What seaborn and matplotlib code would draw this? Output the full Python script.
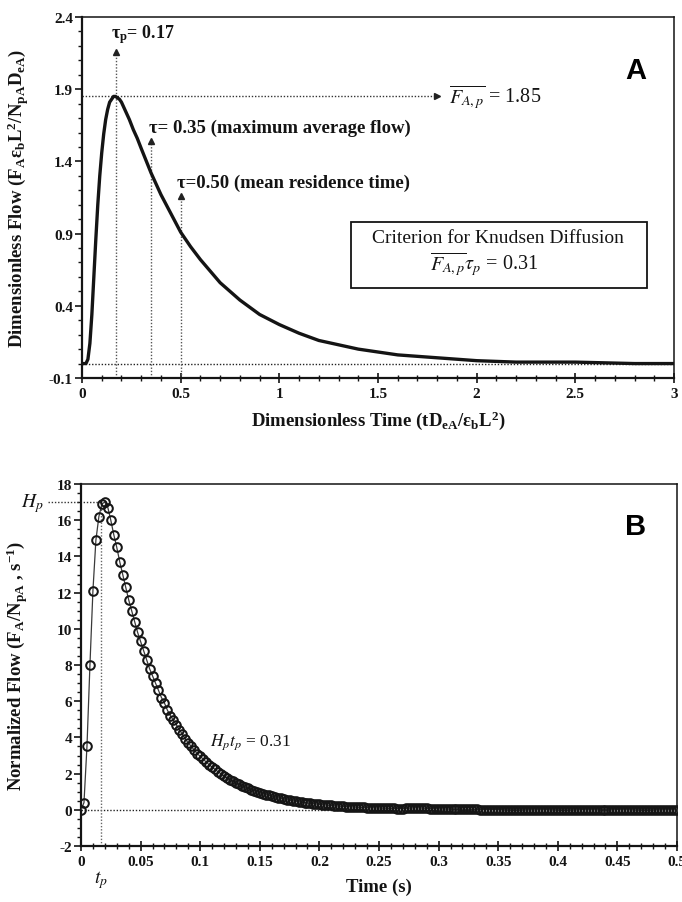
import numpy as np
import matplotlib
matplotlib.use("Agg")
import matplotlib.pyplot as plt
from matplotlib.ticker import MultipleLocator
from matplotlib.patches import Rectangle
import seaborn as sns

# ---------------- data ----------------
# Panel A: dimensionless flow vs dimensionless time
tau_a = [0, 0.02, 0.03, 0.04, 0.05, 0.06, 0.07, 0.08, 0.09, 0.10,
         0.11, 0.12, 0.13, 0.14, 0.15, 0.16, 0.17, 0.18, 0.19, 0.20,
         0.22, 0.24, 0.26, 0.28, 0.30, 0.35, 0.40, 0.45, 0.50, 0.55,
         0.60, 0.70, 0.80, 0.90, 1.00, 1.10, 1.20, 1.30, 1.40, 1.50,
         1.60, 1.80, 2.00, 2.20, 2.50, 2.80, 3.00]
flow_a = [0, 0.00, 0.03, 0.14, 0.34, 0.60, 0.86, 1.10, 1.30, 1.46,
          1.59, 1.69, 1.76, 1.81, 1.83, 1.85, 1.85, 1.84, 1.83, 1.81,
          1.75, 1.69, 1.62, 1.56, 1.49, 1.32, 1.17, 1.04, 0.91, 0.81,
          0.72, 0.56, 0.44, 0.34, 0.27, 0.21, 0.16, 0.13, 0.10, 0.08,
          0.06, 0.04, 0.02, 0.01, 0.01, 0.00, 0.00]

marker_tau = [0.17, 0.35, 0.50]
marker_top = [2.155, 1.543, 1.157]
peak_flow_a = 1.85

xticks_a = [0, 0.5, 1, 1.5, 2, 2.5, 3]
xticklabels_a = ["0", "0.5", "1", "1.5", "2", "2.5", "3"]
yticks_a = [-0.1, 0.4, 0.9, 1.4, 1.9, 2.4]
yticklabels_a = ["-0.1", "0.4", "0.9", "1.4", "1.9", "2.4"]

# Panel B: normalized flow vs time (sampled every 0.0025 s from 0 to 0.5 s)
flow_b = [
    0.0, 0.4, 3.5, 8.0, 12.1, 14.9, 16.2, 16.9, 17.0, 16.7,
    16.0, 15.2, 14.5, 13.7, 13.0, 12.3, 11.6, 11.0, 10.4, 9.8,
    9.3, 8.8, 8.3, 7.8, 7.4, 7.0, 6.6, 6.2, 5.9, 5.5,
    5.2, 4.95, 4.7, 4.4, 4.2, 3.9, 3.7, 3.5, 3.3, 3.1,
    2.96, 2.80, 2.64, 2.49, 2.36, 2.23, 2.10, 1.99, 1.87, 1.77,
    1.67, 1.58, 1.49, 1.41, 1.33, 1.26, 1.19, 1.12, 1.06, 1.00,
    0.94, 0.89, 0.84, 0.80, 0.75, 0.71, 0.67, 0.63, 0.60, 0.56,
    0.53, 0.50, 0.48, 0.45, 0.42, 0.40, 0.38, 0.36, 0.34, 0.32,
    0.30, 0.28, 0.27, 0.25, 0.24, 0.22, 0.21, 0.20, 0.19, 0.18,
    0.17, 0.16, 0.15, 0.14, 0.13, 0.13, 0.12, 0.11, 0.11, 0.10,
    0.10, 0.09, 0.09, 0.08, 0.08, 0.08, 0.07, 0.07, 0.07, 0.08,
    0.09, 0.10, 0.11, 0.11, 0.10, 0.09, 0.08, 0.07, 0.06, 0.06,
    0.05, 0.05, 0.04, 0.04, 0.04, 0.03, 0.03, 0.03, 0.03, 0.02,
    0.02, 0.02, 0.02, 0.02, 0.01, 0.01, 0.01, 0.01, 0.01, 0.01,
    0.01, 0.01, 0.00, 0.00, 0.00, 0.01, 0.00, 0.00, 0.00, 0.00,
    0.00, 0.00, -0.01, 0.00, 0.00, 0.00, 0.01, 0.00, 0.00, 0.00,
    0.00, 0.00, 0.00, -0.01, 0.00, 0.00, 0.00, 0.00, 0.01, 0.00,
    0.00, 0.00, 0.00, 0.00, -0.01, 0.00, 0.00, 0.00, 0.00, 0.00,
    0.01, 0.00, 0.00, 0.00, 0.00, 0.00, -0.01, 0.00, 0.00, 0.00,
    0.00, 0.00, 0.00, 0.01, 0.00, 0.00, 0.00, 0.00, 0.00, 0.00,
    0.00]
time_b = np.linspace(0, 0.5, len(flow_b))

peak_time_b = 0.017
peak_flow_b = 17.0

xticks_b = [0, 0.05, 0.1, 0.15, 0.2, 0.25, 0.3, 0.35, 0.4, 0.45, 0.5]
xticklabels_b = ["0", "0.05", "0.1", "0.15", "0.2", "0.25", "0.3", "0.35", "0.4", "0.45", "0.5"]
yticks_b = [-2, 0, 2, 4, 6, 8, 10, 12, 14, 16, 18]
yticklabels_b = [str(v) for v in yticks_b]

# ---------------- style ----------------
sns.set_theme(style="ticks")
plt.rcParams["font.family"] = ["Liberation Serif", "DejaVu Serif"]
plt.rcParams["mathtext.fontset"] = "stix"
plt.rcParams["axes.edgecolor"] = "#1a1a1a"
plt.rcParams["axes.linewidth"] = 1.3

INK = "#141414"
DOT = (0, (1, 1.3))
LABEL_FS = 13.5

fig = plt.figure(figsize=(6.82, 9.03), dpi=100)
fig.patch.set_facecolor("white")
axA = fig.add_axes([82 / 682, 1 - 379 / 903, 592 / 682, 361 / 903])
axB = fig.add_axes([81 / 682, 1 - 847 / 903, 596 / 682, 362 / 903])


def style_axis(ax, xticks, xlabels, yticks, ylabels, xminor, yminor):
    ax.set_xticks(xticks)
    ax.set_xticklabels(xlabels, fontweight="bold", fontsize=11)
    ax.set_yticks(yticks)
    ax.set_yticklabels(ylabels, fontweight="bold", fontsize=11)
    ax.xaxis.set_minor_locator(MultipleLocator(xminor))
    ax.yaxis.set_minor_locator(MultipleLocator(yminor))
    ax.tick_params(axis="x", which="major", direction="inout", length=7, width=1.2,
                   colors=INK, pad=3)
    ax.tick_params(axis="x", which="minor", direction="inout", length=4, width=1.0,
                   colors=INK)
    ax.tick_params(axis="y", which="major", direction="out", length=5, width=1.2,
                   colors=INK, pad=1.5)
    ax.tick_params(axis="y", which="minor", direction="out", length=3, width=1.0,
                   colors=INK)
    ax.tick_params(top=False, right=False, which="both")
    for sp in ax.spines.values():
        sp.set_color(INK)
    ax.spines["left"].set_linewidth(1.6)
    ax.spines["bottom"].set_linewidth(1.6)
    ax.spines["top"].set_linewidth(1.1)
    ax.spines["right"].set_linewidth(1.1)
    ax.grid(False)


# ---------------- Panel A ----------------
sns.lineplot(x=tau_a, y=flow_a, ax=axA, color=INK, lw=2.4, sort=False,
             estimator=None, zorder=4)
axA.set_xlim(0, 3)
axA.set_ylim(-0.1, 2.4)
style_axis(axA, xticks_a, xticklabels_a, yticks_a, yticklabels_a, 0.1, 0.1)

# zero baseline and peak line
axA.plot([0, 3], [0, 0], ls=DOT, color="#222", lw=1.0, zorder=2)
axA.plot([0, 1.80], [peak_flow_a, peak_flow_a], ls=DOT, color="#333", lw=1.0, zorder=2)
axA.plot([1.80], [peak_flow_a], marker=">", ms=5, color="#222", zorder=3)
axA.text(1.86, peak_flow_a, r"$\overline{F_{A,p}}$ = 1.85", fontsize=14.5,
         ha="left", va="center", color=INK)

# vertical dotted markers
for xt, yt in zip(marker_tau, marker_top):
    axA.plot([xt, xt], [-0.1, yt], ls=DOT, color="#555", lw=1.0, zorder=2)
    axA.plot([xt], [yt], marker="^", ms=4.5, color="#222", zorder=3)

axA.text(0.145, 2.284, r"$\mathregular{τ_p}$= 0.17", fontsize=13, fontweight="bold",
         ha="left", va="center", color=INK)
axA.text(0.339, 1.637, "τ= 0.35 (maximum average flow)", fontsize=13.5,
         fontweight="bold", ha="left", va="center", color=INK)
axA.text(0.482, 1.257, "τ=0.50 (mean residence time)", fontsize=13.5,
         fontweight="bold", ha="left", va="center", color=INK)

# criterion box
axA.add_patch(Rectangle((1.363, 0.52), 1.5, 0.46, fill=False, ec=INK, lw=1.3, zorder=3))
axA.text(2.11, 0.875, "Criterion for Knudsen Diffusion", fontsize=14,
         ha="center", va="center", color=INK)
axA.text(2.04, 0.69, r"$\overline{F_{A,p}}\tau_p$ = 0.31", fontsize=14.5,
         ha="center", va="center", color=INK)

axA.text(0.936, 0.853, "A", transform=axA.transAxes, fontfamily="Liberation Sans",
         fontweight="bold", fontsize=21, ha="center", va="center", color="black")

axA.set_xlabel(r"Dimensionless Time (tD$\mathregular{_{eA}}$/ε$\mathregular{_b}$L$\mathregular{^2}$)",
               fontweight="bold", fontsize=LABEL_FS, color=INK)
axA.set_ylabel(r"Dimensionless Flow (F$\mathregular{_A}$ε$\mathregular{_b}$L$\mathregular{^2}$/N$\mathregular{_{pA}}$D$\mathregular{_{eA}}$)",
               fontweight="bold", fontsize=LABEL_FS, color=INK)
axA.xaxis.set_label_coords(0.5, -0.085)
axA.yaxis.set_label_coords(-0.086, 0.5)

# ---------------- Panel B ----------------
axB.plot([0, 0.5], [0, 0], ls=DOT, color="#222", lw=1.0, zorder=1)
sns.lineplot(x=time_b, y=flow_b, ax=axB, color="#3a3a3a", lw=0.9,
             marker="o", markersize=6.2, markerfacecolor="none",
             markeredgecolor="#151515", markeredgewidth=1.45,
             sort=False, estimator=None, zorder=4)
axB.set_xlim(0, 0.5)
axB.set_ylim(-2, 18)
style_axis(axB, xticks_b, xticklabels_b, yticks_b, yticklabels_b, 0.01, 0.5)

axB.plot([-0.0275, peak_time_b], [peak_flow_b, peak_flow_b], ls=DOT, color="#333",
         lw=1.0, clip_on=False, zorder=2)
axB.plot([peak_time_b, peak_time_b], [-2, peak_flow_b], ls=DOT, color="#666",
         lw=1.0, zorder=2)
axB.text(-0.041, peak_flow_b, r"$H_p$", fontsize=14, ha="center", va="center", color=INK)
axB.text(peak_time_b, -3.85, r"$t_p$", fontsize=14, ha="center", va="center", color=INK)
axB.text(0.108, 3.8, r"$H_pt_p$ = 0.31", fontsize=12.5, ha="left", va="center", color=INK)

axB.text(0.93, 0.885, "B", transform=axB.transAxes, fontfamily="Liberation Sans",
         fontweight="bold", fontsize=21, ha="center", va="center", color="black")

axB.set_xlabel("Time (s)", fontweight="bold", fontsize=LABEL_FS, color=INK)
axB.set_ylabel(r"Normalized Flow (F$\mathregular{_A}$/N$\mathregular{_{pA}}$ , s$\mathregular{^{-1}}$)",
               fontweight="bold", fontsize=LABEL_FS, color=INK)
axB.xaxis.set_label_coords(0.5, -0.088)
axB.yaxis.set_label_coords(-0.086, 0.5)

fig.savefig("out.png", dpi=100, facecolor="white")
